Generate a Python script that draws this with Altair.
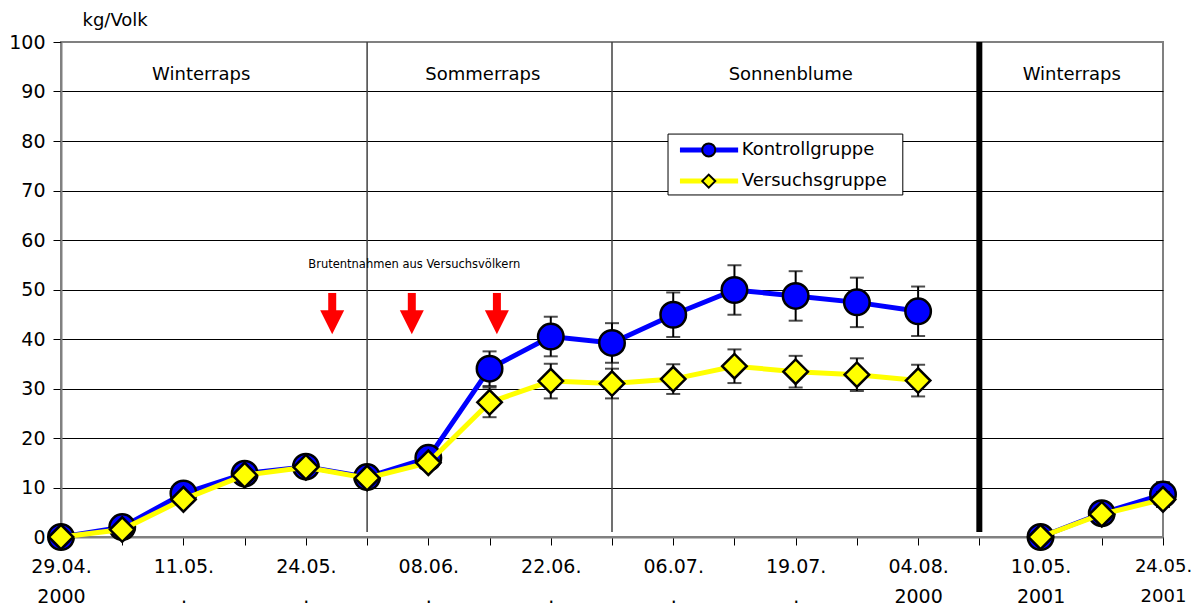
import altair as alt
import pandas as pd

# ---- data ----
idx = list(range(19))
kontroll = [0, 2, 8.8, 12.8, 14.2, 12.1, 16, 34, 40.5, 39.2, 44.9, 49.9, 48.7, 47.4, 45.6, None, 0, 4.8, 8.6]
versuch = [0, 1.5, 7.6, 12.5, 14.1, 11.9, 15, 27.2, 31.5, 31, 31.9, 34.5, 33.4, 32.8, 31.6, None, 0, 4.6, 7.6]
k_err = [0, 0.5, 1, 1, 1, 1, 1, 3.5, 4, 4, 4.5, 5, 5, 5, 5, None, 0, 1, 2.5]
v_err = [0, 0.5, 1, 1, 1, 1, 1, 3, 3.5, 3, 3, 3.4, 3.2, 3.3, 3.2, None, 0, 1, 1.5]
x_labels = ["29.04.|2000", "", "11.05.|.", "", "24.05.|.", "", "08.06.|.", "", "22.06.|.", "",
            "06.07.|.", "", "19.07.|.", "", "04.08.|2000", "", "10.05.|2001", "", "24.05.|2001"]

sections = ["Winterraps", "Sommerraps", "Sonnenblume", "Winterraps"]
section_x = [2.29, 6.89, 11.92, 16.51]
section_y = [93.3, 93.3, 93.3, 93.3]
divider_x = [5, 9]
thick_x = [15]
arrow_x = [4.43, 5.73, 7.12]
note_text = ["Brutentnahmen aus Versuchsvölkern"]
note_x = [5.77]
note_y = [54.9]
groups = ["Kontrollgruppe", "Versuchsgruppe"]
colors = ["#0000FF", "#FFFF00"]

rows = []
for g, vals, errs in [(groups[0], kontroll, k_err), (groups[1], versuch, v_err)]:
    for i, v, e in zip(idx, vals, errs):
        if v is None:
            continue
        rows.append({"group": g, "idx": i, "value": v, "lo": v - e, "hi": v + e,
                     "period": 0 if i < 15 else 1})
df = pd.DataFrame(rows)

FONT = "DejaVu Sans"
xscale = alt.Scale(domain=[0, 18], nice=False, zero=False)
yscale = alt.Scale(domain=[0, 100], nice=False)

label_arr = "[" + ",".join("'" + s + "'" for s in x_labels) + "]"
x_axis = alt.Axis(values=idx, grid=False, domainColor="#808080", domainWidth=2,
                  tickColor="black", tickSize=8, tickWidth=1,
                  labelExpr="split(" + label_arr + "[datum.value], '|')",
                  labelFontSize={"condition": {"test": "datum.value == 18", "value": 18}, "value": 19},
                  labelLineHeight=30, labelPadding=12, labelFont=FONT,
                  labelColor="black", labelFlush=False, labelOverlap=False, labelBound=False,
                  title=None)
y_axis = alt.Axis(values=list(range(0, 101, 10)), grid=True,
                  gridColor={"condition": {"test": "datum.value == 100", "value": "#808080"}, "value": "black"},
                  gridWidth=1, domainColor="#808080", domainWidth=2,
                  tickColor="black", tickSize=8, labelFontSize=19, labelPadding=8, labelFont=FONT,
                  labelColor="black", title="kg/Volk", titleAngle=0, titleX=21, titleY=-22,
                  titleAlign="left", titleBaseline="middle", titleFontSize=18,
                  titleFontWeight="normal", titleFont=FONT, titleColor="black")


def series_layers(g, color, shape, size):
    d = alt.Chart(df).transform_filter(alt.datum.group == g)
    line = d.mark_line(color=color, strokeWidth=5).encode(
        x=alt.X("idx:Q", scale=xscale), y=alt.Y("value:Q", scale=yscale), detail="period:N")
    rule = d.mark_rule(color="black", strokeWidth=2).encode(
        x="idx:Q", y="lo:Q", y2="hi:Q")
    cap_lo = d.mark_tick(orient="horizontal", size=14, thickness=2, color="black").encode(
        x="idx:Q", y="lo:Q")
    cap_hi = d.mark_tick(orient="horizontal", size=14, thickness=2, color="black").encode(
        x="idx:Q", y="hi:Q")
    pts = d.mark_point(shape=shape, size=size, filled=True, fill=color, stroke="black",
                       strokeWidth=2.5, opacity=1).encode(x="idx:Q", y="value:Q")
    return [line, rule, cap_lo, cap_hi, pts]


axes_layer = alt.Chart(df).mark_point(opacity=0).encode(
    x=alt.X("idx:Q", scale=xscale, axis=x_axis),
    y=alt.Y("value:Q", scale=yscale, axis=y_axis))

div_df = pd.DataFrame({"x": divider_x, "y": [100] * len(divider_x), "y2": [1] * len(divider_x)})
dividers = alt.Chart(div_df).mark_rule(color="#404040", strokeWidth=1.5).encode(
    x="x:Q", y="y:Q", y2="y2:Q")
thick_df = pd.DataFrame({"x": thick_x, "y": [100], "y2": [1]})
thick = alt.Chart(thick_df).mark_rule(color="black", strokeWidth=6).encode(
    x="x:Q", y="y:Q", y2="y2:Q")

sec_df = pd.DataFrame({"x": section_x, "y": section_y, "t": sections})
sec_text = alt.Chart(sec_df).mark_text(font=FONT, fontSize=18, color="black",
                                       align="center", baseline="middle").encode(
    x="x:Q", y="y:Q", text="t:N")

arrow_df = pd.DataFrame({"x": arrow_x, "top": [49.3] * 3, "base": [45.4] * 3, "head": [43.4] * 3})
arrow_shaft = alt.Chart(arrow_df).mark_rule(color="#FF0000", strokeWidth=8).encode(
    x="x:Q", y="top:Q", y2="base:Q")
arrow_head = alt.Chart(arrow_df).mark_point(shape="M-1,-1L1,-1L0,1Z", size=576, filled=True,
                                            fill="#FF0000", strokeWidth=0, opacity=1).encode(
    x="x:Q", y="head:Q")
note_df = pd.DataFrame({"x": note_x, "y": note_y, "t": note_text})
note = alt.Chart(note_df).mark_text(font=FONT, fontSize=11.5, color="black",
                                    align="center", baseline="middle").encode(
    x="x:Q", y="y:Q", text="t:N")

# legend (drawn in data coordinates)
leg_box_df = pd.DataFrame({"x": [9.915], "x2": [13.75], "y": [69.1], "y2": [81.4]})
leg_box = alt.Chart(leg_box_df).mark_rect(fill="white", stroke="black", strokeWidth=1).encode(
    x="x:Q", x2="x2:Q", y="y:Q", y2="y2:Q")
leg_df = pd.DataFrame({"g": groups, "y": [78.2, 71.9], "x1": [10.11, 10.11], "x2": [11.06, 11.06],
                       "xm": [10.58, 10.58], "xt": [11.12, 11.12]})
cscale = alt.Scale(domain=groups, range=colors)
leg_lines = alt.Chart(leg_df).mark_rule(strokeWidth=5).encode(
    x="x1:Q", x2="x2:Q", y="y:Q", color=alt.Color("g:N", scale=cscale, legend=None))
leg_circle = alt.Chart(leg_df).transform_filter(alt.datum.g == groups[0]).mark_point(
    shape="circle", size=170, filled=True, fill=colors[0], stroke="black", strokeWidth=2,
    opacity=1).encode(x="xm:Q", y="y:Q")
leg_diamond = alt.Chart(leg_df).transform_filter(alt.datum.g == groups[1]).mark_point(
    shape="diamond", size=170, filled=True, fill=colors[1], stroke="black", strokeWidth=2,
    opacity=1).encode(x="xm:Q", y="y:Q")
leg_text = alt.Chart(leg_df).mark_text(font=FONT, fontSize=18, color="black", align="left",
                                       baseline="middle").encode(x="xt:Q", y="y:Q", text="g:N")

layers = [axes_layer, dividers, thick, sec_text, note, arrow_shaft, arrow_head]
layers += series_layers(groups[0], colors[0], "circle", 650)
layers += series_layers(groups[1], colors[1], "diamond", 600)
layers += [leg_box, leg_lines, leg_circle, leg_diamond, leg_text]

chart = alt.layer(*layers).properties(
    width=1102, height=495,
    autosize=alt.AutoSizeParams(type="none"),
    padding={"left": 53, "top": 34, "right": 29, "bottom": 71},
    background="white",
).configure_view(stroke="#808080", strokeWidth=2)

chart.save("out.html", embed_options={"renderer": "svg", "actions": False})
